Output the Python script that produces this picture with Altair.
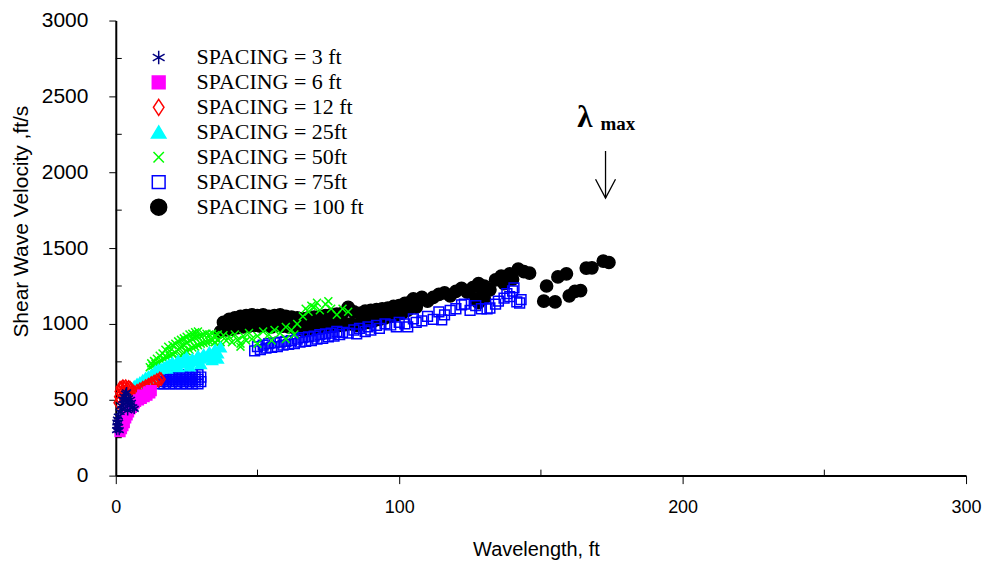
import altair as alt
import pandas as pd

# ---------------- data ----------------
SERIES = ["SPACING = 3 ft", "SPACING = 6 ft", "SPACING = 12 ft", "SPACING = 25ft",
          "SPACING = 50ft", "SPACING = 75ft", "SPACING = 100 ft"]
COLORS = ["#000080", "#FF00FF", "#FF0000", "#00FFFF", "#00FF00", "#0000FF", "#000000"]
FILLS = ["transparent", "#FF00FF", "transparent", "#00FFFF", "transparent", "transparent", "#000000"]
SHAPES = [
    "M0,-0.85L0,0.85M-0.74,-0.43L0.74,0.43M-0.74,0.43L0.74,-0.43",  # asterisk
    "M-0.8,-0.8H0.8V0.8H-0.8Z",                                    # filled square
    "M0,-1L0.66,0L0,1L-0.66,0Z",                                   # open diamond
    "M0,-0.8L0.9,0.7L-0.9,0.7Z",                                   # filled triangle
    "M-0.65,-0.65L0.65,0.65M-0.65,0.65L0.65,-0.65",                # x cross
    "M-0.8,-0.8H0.8V0.8H-0.8Z",                                    # open square
    "circle",                                                      # filled circle
]

SPACING_3FT = [(0.3, 300), (0.5, 330), (0.8, 320), (1.0, 350), (0.6, 370), (1.2, 300),
               (0.4, 350), (0.9, 390), (1.5, 420), (2.0, 460), (2.5, 500), (3.0, 520),
               (2.2, 440), (3.5, 540), (4.0, 480), (2.8, 470), (4.5, 510), (5.0, 460),
               (3.2, 500), (5.5, 480), (6.0, 450), (4.2, 430), (6.5, 440), (3.8, 550),
               (5.2, 500)]

SPACING_6FT = [(1.5, 290), (2.0, 310), (2.5, 330), (3.0, 350), (3.5, 380), (4.0, 400),
               (4.5, 420), (5.0, 440), (5.5, 450), (6.0, 470), (7.0, 490), (8.0, 500),
               (9.0, 510), (10.0, 520), (11.0, 530), (12.0, 545), (12.5, 560), (6.5, 480),
               (9.5, 530), (11.5, 550)]

SPACING_12FT = [(0.8, 480), (1.0, 520), (1.2, 555), (1.5, 580), (2.0, 580), (2.5, 590),
                (3.0, 580), (3.5, 590), (4.0, 575), (4.5, 585), (5.0, 580), (5.5, 570),
                (6.0, 560), (6.5, 550), (7.0, 545), (7.5, 560), (8.0, 550), (8.5, 570),
                (9.0, 560), (9.5, 580), (10.0, 575), (10.5, 590), (11.0, 585), (11.5, 600),
                (12.0, 595), (12.5, 610), (13.0, 605), (13.5, 620), (14.0, 615), (14.5, 630),
                (15.0, 625), (15.5, 640), (16.0, 635), (1.5, 500), (2.0, 540), (2.5, 560),
                (3.0, 550), (4.0, 540), (5.0, 530), (6.0, 510), (7.0, 505), (8.0, 515),
                (9.0, 525), (10.0, 540), (11.0, 550)]

SPACING_25FT = [(6, 560), (6.5, 590), (7, 575), (7.5, 605), (8, 585), (8.5, 615), (9, 595),
                (9.5, 630), (10, 605), (10.5, 645), (11, 620), (11.5, 655), (12, 630),
                (12.5, 665), (13, 640), (13.5, 675), (14, 690), (15, 700), (16, 705),
                (17, 715), (18, 725), (19, 735), (20, 745), (21, 730), (22, 760), (23, 740),
                (24, 765), (25, 780), (26, 745), (27, 770), (28, 755), (29, 790), (30, 770),
                (31, 800), (32, 780), (33, 815), (34, 795), (35, 830), (36, 805), (37, 845),
                (36, 770), (34, 760), (30, 735), (26, 720), (22, 715), (18, 705)]

SPACING_50FT = [(12, 715), (12.5, 740), (13, 725), (13.5, 755), (14, 735), (14.5, 770),
                (15, 745), (15.5, 790), (16, 760), (16.5, 805), (17, 770), (17.5, 830),
                (18, 780), (18.5, 850), (19, 790), (19, 820), (20, 800), (20, 860), (21, 810),
                (21, 870), (22, 770), (22, 830), (22, 885), (23, 790), (23, 850), (23, 895),
                (24, 810), (24, 860), (24, 905), (25, 820), (25, 875), (25, 915), (26, 830),
                (26, 890), (26, 930), (27, 845), (27, 900), (27, 935), (28, 850), (28, 910),
                (28, 945), (29, 860), (29, 915), (29, 950), (30, 870), (30, 920), (31, 875),
                (31, 930), (32, 880), (32, 935), (33, 885), (33, 930), (34, 890), (34, 935),
                (35, 880), (35, 925), (36, 890), (36, 930), (37, 880), (38, 925), (39, 890),
                (40, 915), (41, 880), (42, 930), (43, 895), (44, 870), (44, 850), (45, 920),
                (46, 890), (47, 940), (48, 900), (50, 920), (50, 870), (52, 950), (54, 930),
                (55, 890), (56, 960), (58, 940), (60, 980), (60, 900), (62, 960), (63, 930),
                (64, 1000), (66, 1050), (67, 1100), (68, 1080), (69, 1120), (70, 1110),
                (71, 1140), (72, 1090), (74, 1130), (75, 1150), (76, 1100), (78, 1060),
                (80, 1100), (82, 1080)]

SPACING_75FT = [(15, 605), (15, 635), (15, 665), (16, 620), (16, 650), (17, 605), (17, 635),
                (17, 665), (18, 620), (18, 650), (19, 605), (19, 635), (19, 665), (20, 620),
                (20, 650), (21, 605), (21, 635), (21, 665), (22, 620), (22, 650), (23, 605),
                (23, 635), (23, 665), (24, 620), (24, 650), (25, 605), (25, 635), (25, 665),
                (26, 620), (26, 650), (27, 605), (27, 635), (27, 665), (28, 620), (28, 650),
                (29, 605), (29, 635), (29, 665), (30, 620), (30, 650),
                (49, 822), (50, 850), (51, 830), (52, 860), (53, 840), (54, 870), (55, 845),
                (56, 875), (57, 850), (58, 880), (59, 860), (60, 885), (61, 865), (62, 890),
                (63, 870), (64, 900), (65, 880), (66, 910), (67, 885), (68, 915), (69, 890),
                (70, 920), (71, 900), (72, 930), (73, 905), (74, 935), (75, 915), (76, 940),
                (77, 920), (78, 950), (79, 930), (80, 945), (82, 940), (84, 960), (85, 935),
                (86, 970), (88, 950), (89, 980), (90, 960), (92, 990), (93, 970), (95, 1000),
                (97, 993), (99, 980), (100, 1010), (102, 1000), (103, 980), (105, 1033),
                (106, 1010), (108, 1020), (110, 1050), (112, 1030), (114, 1079), (115, 1026),
                (116, 1060), (118, 1090), (120, 1100), (122, 1125), (123, 1131), (125, 1090),
                (127, 1120), (129, 1100), (131, 1099), (132, 1105), (134, 1130), (135, 1150),
                (137, 1170), (138, 1200), (139, 1180), (140, 1217), (140.5, 1237),
                (141.5, 1145), (142.5, 1138), (143, 1160)]

SPACING_100FT = [(37, 950), (38, 1010), (39, 960), (40, 1030), (41, 965), (42, 1040), (43, 975),
                 (44, 1050), (45, 980), (46, 1055), (47, 985), (48, 1060), (49, 990), (50, 1055),
                 (51, 985), (52, 1060), (53, 990), (54, 1050), (55, 980), (56, 1055), (57, 990),
                 (58, 1060), (59, 985), (60, 1050), (61, 980), (62, 1045), (63, 975), (64, 1040),
                 (65, 965), (66, 1035), (67, 960), (68, 1040), (69, 965), (70, 1045), (71, 970),
                 (72, 1050), (73, 975), (74, 1055), (75, 980), (76, 1060), (77, 985), (78, 1065),
                 (79, 990), (80, 1070), (81, 995), (82, 1110), (83, 1000), (84, 1080), (85, 990),
                 (86, 1070), (87, 1000), (88, 1085), (89, 1010), (90, 1090), (91, 1020),
                 (92, 1095), (93, 1030), (94, 1100), (95, 1040), (96, 1105), (97, 1050),
                 (98, 1115), (99, 1060), (100, 1120), (101, 1070), (102, 1135), (103, 1090),
                 (104, 1145), (105, 1165), (106, 1110), (107, 1155), (108, 1175), (110, 1150),
                 (112, 1175), (114, 1195), (116, 1205), (118, 1185), (120, 1215), (122, 1235),
                 (124, 1210), (126, 1240), (127, 1160), (128, 1265), (128, 1140), (129.6, 1197),
                 (130, 1250), (130, 1170), (132, 1225), (134, 1290), (136, 1315), (137, 1265),
                 (139, 1330), (140, 1295), (142, 1362), (144, 1345), (146, 1335), (151, 1150),
                 (152, 1250), (155, 1145), (156, 1310), (159, 1330), (160, 1185), (162, 1215),
                 (164, 1220), (166, 1368), (168, 1370), (172, 1414), (174, 1405)]

DATA = [SPACING_3FT, SPACING_6FT, SPACING_12FT, SPACING_25FT,
        SPACING_50FT, SPACING_75FT, SPACING_100FT]

X_MAJOR = [0, 100, 200, 300]
X_MINOR = [50, 150, 250]
Y_MAJOR = [0, 500, 1000, 1500, 2000, 2500, 3000]
Y_MINOR = [250, 750, 1250, 1750, 2250, 2750]

# annotation (lambda max and arrow), in data units
LAMBDA_X, LAMBDA_Y = 165.5, 2355
MAX_X, MAX_Y = 171.0, 2315
ARROW_X, ARROW_TOP, ARROW_TIP = 172.8, 2140, 1829

# ---------------- build tables (first series drawn last / on top) ----------------
rows = []
for name, pts in reversed(list(zip(SERIES, DATA))):
    for x, y in pts:
        rows.append({"series": name, "wavelength": x, "velocity": y})
df = pd.DataFrame(rows)

W, H = 852, 456
x_scale = alt.Scale(domain=[0, 300], nice=False)
y_scale = alt.Scale(domain=[0, 3000], nice=False)

X_TITLE = "Wavelength, ft"
Y_TITLE = "Shear Wave Velocity ,ft/s"
x_axis = alt.Axis(values=X_MAJOR, format="d", title=X_TITLE, labelFlush=False,
                  tickSize=8, labelPadding=15, labelFontSize=18,
                  titleFontSize=20, titlePadding=23, domainWidth=2, titleX=421)
y_axis = alt.Axis(values=Y_MAJOR, format="d", title=Y_TITLE, labelFlush=False,
                  tickSize=7, labelPadding=21, labelFontSize=21,
                  titleFontSize=21, titlePadding=10, domainWidth=2, titleY=201)


def X(field="wavelength"):
    return alt.X(f"{field}:Q", scale=x_scale, axis=x_axis, title=X_TITLE)


def Y(field="velocity"):
    return alt.Y(f"{field}:Q", scale=y_scale, axis=y_axis, title=Y_TITLE)


legend = alt.Legend(title=None, orient="none", legendX=32, legendY=26,
                    symbolSize=256, symbolStrokeWidth=1.5,
                    labelFont="Liberation Serif", labelFontSize=22, labelColor="black",
                    labelOffset=27, rowPadding=3, padding=0, labelLimit=400)

points = alt.Chart(df).mark_point(opacity=1, size=150, strokeWidth=1.5).encode(
    x=X(), y=Y(),
    shape=alt.Shape("series:N", scale=alt.Scale(domain=SERIES, range=SHAPES), legend=legend),
    stroke=alt.Stroke("series:N", scale=alt.Scale(domain=SERIES, range=COLORS), legend=legend),
    fill=alt.Fill("series:N", scale=alt.Scale(domain=SERIES, range=FILLS), legend=legend),
)

y_minor = alt.Chart(pd.DataFrame({"velocity": Y_MINOR})).mark_rule(
    color="black", strokeWidth=1).encode(y=Y(), x=alt.value(0), x2=alt.value(6))
x_minor = alt.Chart(pd.DataFrame({"wavelength": X_MINOR})).mark_rule(
    color="black", strokeWidth=1).encode(x=X(), y=alt.value(H), y2=alt.value(H - 6))

arrow_df = pd.DataFrame({"wavelength": [ARROW_X], "velocity": [ARROW_TIP], "velocity_top": [ARROW_TOP]})
arrow_line = alt.Chart(arrow_df).mark_rule(color="black", strokeWidth=1.3).encode(
    x=X(), y=Y(), y2="velocity_top:Q")
arrow_head = alt.Chart(arrow_df).mark_point(shape="M-1,-1.9L0,0L1,-1.9", size=400, filled=False,
                                            color="black", strokeWidth=1.3, opacity=1).encode(
    x=X(), y=Y())

lam_df = pd.DataFrame({"wavelength": [LAMBDA_X], "velocity": [LAMBDA_Y], "t": ["λ"]})
max_df = pd.DataFrame({"wavelength": [MAX_X], "velocity": [MAX_Y], "t": ["max"]})
lam_text = alt.Chart(lam_df).mark_text(font="Liberation Serif", fontSize=31, fontWeight="bold",
                                       color="black").encode(x=X(), y=Y(), text="t:N")
max_text = alt.Chart(max_df).mark_text(font="Liberation Serif", fontSize=19, fontWeight="bold",
                                       color="black", align="left").encode(x=X(), y=Y(), text="t:N")

chart = alt.layer(points, y_minor, x_minor, arrow_line, arrow_head, lam_text, max_text).properties(
    width=W, height=H,
    padding={"left": 2, "top": 1, "right": 5, "bottom": 5},
).configure_view(stroke="transparent").configure_axis(
    grid=False, domainColor="black", tickColor="black", labelColor="black", titleColor="black",
    labelFont="Liberation Sans", titleFont="Liberation Sans", titleFontWeight="normal", tickWidth=1,
)

chart.save("out.html", embed_options={"renderer": "svg", "actions": False})
